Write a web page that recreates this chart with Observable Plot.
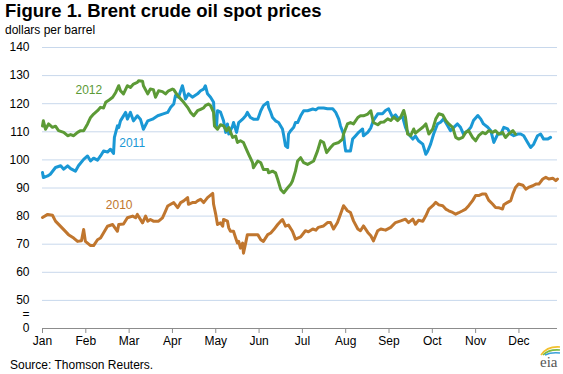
<!DOCTYPE html>
<html>
<head>
<meta charset="utf-8">
<script src="https://cdn.jsdelivr.net/npm/d3@7"></script>
<script src="https://cdn.jsdelivr.net/npm/@observablehq/plot@0.6"></script>
<style>
  html, body { margin: 0; padding: 0; background: #fff; }
  #wrap { position: relative; width: 563px; height: 374px; overflow: hidden; font-family: "Liberation Sans", Arial, sans-serif; color: #000; }
  #title { position: absolute; left: 5px; top: 0px; font-size: 18.5px; font-weight: bold; line-height: 22px; white-space: nowrap; }
  #subtitle { position: absolute; left: 5px; top: 23px; font-size: 12px; line-height: 14px; white-space: nowrap; }
  #chart { position: absolute; left: 0; top: 36px; }
  #source { position: absolute; left: 10px; top: 358px; font-size: 12px; line-height: 14px; white-space: nowrap; }
  #logo { position: absolute; left: 536px; top: 343px; }
</style>
</head>
<body>
<div id="wrap">
  <div id="title">Figure 1. Brent crude oil spot prices</div>
  <div id="subtitle">dollars per barrel</div>
  <div id="chart"></div>
  <div id="source">Source: Thomson Reuters.</div>
  <svg id="logo" width="27" height="27" viewBox="0 0 27 27">
    <path d="M5,12 Q11,3 24,4" fill="none" stroke="#f2c12e" stroke-width="1.6"/>
    <path d="M7,12 Q13,6 24,7" fill="none" stroke="#7dbb42" stroke-width="1.6"/>
    <path d="M9,12 Q15,9 24,10" fill="none" stroke="#3aa0d8" stroke-width="1.6"/>
    <text x="4" y="24" font-family="Liberation Serif, serif" font-size="15" fill="#555">eia</text>
  </svg>
</div>
<script>
// x values are months from Jan 1 (0 = Jan, 1 = Feb, ... fractional within month)
const monthLabels = ["Jan","Feb","Mar","Apr","May","Jun","Jul","Aug","Sep","Oct","Nov","Dec"];
const monthTicks = [0,1,2,3,4,5,6,7,8,9,10,11];
const yTicks = [40,45,50,60,70,80,90,100,110,120,130,140];   // 40 is shown as "0", 45 as the axis-break "="
const gridValues = [50,60,70,80,90,100,110,120,130,140];
const seriesNames = ["2010","2011","2012"];
const seriesColors = ["#c0762e","#1a98d5","#5c9a36"];

const brent2010 = [[0,79.5],[0.12,80.6],[0.23,80.3],[0.30,78.2],[0.49,75.2],[0.60,73.4],[0.72,72.2],[0.81,71],[0.90,71.2],[0.95,75.2],[0.99,71],[1.11,69.5],[1.18,69.5],[1.27,71.6],[1.34,72.2],[1.50,76.4],[1.62,77],[1.73,74.6],[1.76,77],[1.87,77.2],[1.96,79.4],[2.08,80],[2.15,79.4],[2.19,80.6],[2.31,77.6],[2.38,80],[2.43,78.2],[2.49,78.8],[2.56,78.2],[2.68,78.2],[2.77,79.4],[2.84,81.8],[2.89,83.6],[2.96,84.2],[3.03,84.8],[3.12,83],[3.19,84.8],[3.26,85.4],[3.35,86.6],[3.37,84.2],[3.46,84.8],[3.53,84.8],[3.58,85.4],[3.65,86],[3.72,84.8],[3.81,86.6],[3.93,88.1],[3.95,84.2],[4.00,80.6],[4.04,77],[4.11,77.6],[4.16,76.4],[4.18,78.8],[4.27,78.2],[4.30,75.8],[4.34,74.6],[4.41,74.6],[4.46,72.2],[4.50,70.4],[4.53,71],[4.57,68.6],[4.62,70.4],[4.64,66.8],[4.69,70.4],[4.73,73.4],[4.80,73.4],[4.97,73.4],[5.04,71.6],[5.10,71],[5.20,73.4],[5.27,74],[5.34,75.2],[5.43,77],[5.50,78.2],[5.54,78.8],[5.61,76.4],[5.68,76.8],[5.77,74.6],[5.84,71.8],[5.96,72.6],[6.07,74.8],[6.14,74.4],[6.24,75.4],[6.31,75],[6.37,76],[6.49,76.5],[6.58,77.7],[6.65,77.7],[6.72,75.4],[6.81,77.7],[6.88,80.7],[6.95,83.7],[7.04,81.9],[7.11,81.3],[7.18,78.3],[7.28,75.4],[7.34,74.8],[7.41,76.5],[7.51,74.2],[7.58,73],[7.64,71.2],[7.69,73],[7.74,74.8],[7.81,75.4],[7.92,75],[8.04,76],[8.15,77.7],[8.27,78.3],[8.38,78.9],[8.45,77.7],[8.55,78.9],[8.61,77.1],[8.68,78.5],[8.78,78.2],[8.85,80.1],[8.92,82.5],[9.01,83.7],[9.08,84.9],[9.15,84],[9.24,83.7],[9.31,82.5],[9.38,81.9],[9.47,81.3],[9.54,80.7],[9.61,81.2],[9.70,81.9],[9.77,82.5],[9.84,83.7],[9.93,85.5],[10.00,87.3],[10.07,87.3],[10.16,87.9],[10.23,87.9],[10.30,85.7],[10.39,84.3],[10.46,83.1],[10.53,83],[10.62,82.5],[10.65,84],[10.74,84.9],[10.81,85.5],[10.86,87.9],[10.92,90.2],[10.99,91.4],[11.09,91],[11.16,89.6],[11.22,90.2],[11.32,90.8],[11.39,91.4],[11.46,91.4],[11.55,93.2],[11.62,93.8],[11.69,93.2],[11.78,93.5],[11.85,92.6],[11.89,93.2]];

const brent2011 = [[0,95.5],[0.02,93.7],[0.12,94.3],[0.18,94.9],[0.30,97.3],[0.42,97.9],[0.49,96.7],[0.58,97.9],[0.65,96.9],[0.76,96],[0.83,97.9],[0.95,100.2],[1.04,101.4],[1.11,99.6],[1.18,100.6],[1.27,99.9],[1.34,101.4],[1.41,103.2],[1.50,102.8],[1.57,103.8],[1.64,102.3],[1.66,108],[1.73,112.1],[1.76,111.5],[1.80,113.9],[1.92,116.9],[1.96,114.5],[2.03,116.9],[2.10,113.9],[2.19,115.7],[2.26,114.5],[2.33,110.9],[2.43,113.9],[2.54,114.5],[2.66,115.7],[2.77,116.3],[2.89,116.9],[2.96,118.7],[3.03,119.9],[3.07,122.9],[3.14,122.3],[3.23,126.4],[3.26,124.6],[3.30,121.7],[3.37,123.5],[3.46,122.3],[3.58,123.5],[3.65,124.6],[3.72,125.2],[3.76,126.4],[3.81,123.5],[3.88,122.3],[3.95,120.5],[3.97,113.9],[4.02,112.1],[4.04,117.5],[4.11,117],[4.18,113.9],[4.23,109.8],[4.27,112.8],[4.30,109.2],[4.39,112.1],[4.41,113.3],[4.48,109.8],[4.53,113.3],[4.62,114.5],[4.69,115.7],[4.73,116.9],[4.80,115.1],[4.87,114.5],[4.97,114.5],[5.04,117.5],[5.10,119.3],[5.20,120.5],[5.22,118.7],[5.27,116.9],[5.31,115.1],[5.38,113.9],[5.45,113.3],[5.54,111],[5.57,108.6],[5.61,105],[5.66,104.4],[5.68,109.2],[5.73,110.4],[5.80,111.6],[5.84,113.3],[5.89,113.3],[5.96,115.7],[6.03,117.5],[6.12,117.5],[6.24,118.1],[6.31,117.8],[6.37,118.5],[6.49,118.5],[6.58,118.2],[6.70,118.2],[6.77,116.9],[6.84,114.5],[6.88,112.1],[6.95,109.2],[6.98,105],[7.00,103.2],[7.11,103.2],[7.16,107.4],[7.23,108.6],[7.30,109.8],[7.39,111],[7.41,108.6],[7.51,109.8],[7.58,111.4],[7.64,114],[7.74,116.4],[7.85,116.4],[7.92,117.6],[7.99,118.2],[8.08,115.2],[8.15,116],[8.22,114.6],[8.31,115.5],[8.38,111.6],[8.45,109.2],[8.55,107.4],[8.61,108.5],[8.68,106.8],[8.78,105.6],[8.85,102],[8.89,103],[8.96,105.6],[9.03,109.2],[9.12,112.8],[9.19,113.4],[9.26,114.6],[9.35,112.2],[9.42,110.4],[9.49,111.5],[9.58,112.8],[9.65,111.6],[9.72,109.2],[9.82,110.4],[9.89,111.6],[9.95,114],[10.05,115.8],[10.12,114.5],[10.18,112.8],[10.28,111.6],[10.35,110.4],[10.42,106.2],[10.51,109.2],[10.58,109.2],[10.65,111.6],[10.74,111],[10.81,109.2],[10.88,108.6],[10.97,109.2],[11.04,109.2],[11.11,108.6],[11.20,106.2],[11.27,104.4],[11.34,105.6],[11.43,108.6],[11.50,109.2],[11.57,107.4],[11.66,107.4],[11.73,108]];

const brent2012 = [[0,112.1],[0.02,113.9],[0.07,110.9],[0.14,112.8],[0.23,111.6],[0.30,112],[0.37,110.4],[0.49,109.8],[0.58,108.6],[0.65,109],[0.72,108.6],[0.81,109.8],[0.88,110.4],[0.95,110.4],[1.04,112.8],[1.11,115.1],[1.18,116.3],[1.27,117.5],[1.34,118.7],[1.41,118.5],[1.46,120.5],[1.52,121.1],[1.62,122.3],[1.69,124],[1.76,126.4],[1.80,124.6],[1.87,123.5],[1.96,126.4],[2.03,125.8],[2.10,127],[2.19,127.6],[2.22,128.2],[2.31,128],[2.33,126.4],[2.43,123.5],[2.49,125.2],[2.56,125],[2.61,122.3],[2.68,124.6],[2.77,124.3],[2.84,123.5],[2.91,124.6],[3.00,125.2],[3.03,125],[3.12,122.9],[3.19,121.7],[3.26,120.5],[3.35,118.7],[3.42,116.9],[3.49,115.7],[3.58,117.5],[3.65,118],[3.72,118.5],[3.76,119.3],[3.83,119.9],[3.88,119.3],[3.95,116.9],[3.97,112.1],[4.04,110.9],[4.11,112.5],[4.18,112.1],[4.25,110.4],[4.30,111.5],[4.39,108],[4.46,108.5],[4.50,106.2],[4.57,106.8],[4.64,106.2],[4.69,104.4],[4.76,102],[4.85,99],[4.87,97.2],[4.97,99.6],[5.04,99],[5.10,96.6],[5.20,96.6],[5.22,95.4],[5.31,96],[5.38,95.4],[5.43,93.1],[5.50,89.5],[5.57,88.3],[5.66,90.1],[5.73,91.3],[5.77,92.5],[5.84,96],[5.89,99.6],[5.96,100.8],[6.03,99],[6.12,98.4],[6.19,99],[6.26,99.6],[6.35,103.2],[6.42,106.8],[6.49,106.2],[6.56,102.6],[6.65,104.4],[6.72,105.6],[6.84,106.2],[6.93,107.4],[6.95,109.2],[7.04,112.8],[7.11,113.3],[7.18,112.8],[7.28,115.1],[7.34,115.7],[7.41,115.7],[7.51,116.3],[7.58,117.5],[7.64,113.3],[7.74,112.5],[7.81,113.4],[7.88,113.5],[7.97,114.6],[8.04,114],[8.11,115.2],[8.20,114],[8.27,115.2],[8.34,117.6],[8.38,115.2],[8.43,109.2],[8.50,108.6],[8.57,111],[8.61,109.5],[8.68,110.4],[8.78,111.6],[8.85,112.8],[8.92,109.2],[9.01,111],[9.08,114.6],[9.15,116.4],[9.24,116],[9.31,114],[9.38,112.8],[9.47,111.6],[9.54,108],[9.61,107.4],[9.70,108],[9.77,109.8],[9.84,110.4],[9.93,108],[10.00,106.8],[10.07,108.6],[10.16,109.8],[10.23,109.3],[10.30,110.4],[10.39,109.8],[10.46,110.4],[10.53,109.2],[10.62,109.8],[10.69,108],[10.76,109.2],[10.86,110.4],[10.92,109.2]];

// series label anchors (month, value)
const labelMonth = [1.77, 2.07, 1.07];
const labelValue = [84.0, 105.8, 124.7];

const series = [brent2010, brent2011, brent2012];
const lineMarks = series.map((s, i) =>
  Plot.line(s, {x: d => d[0], y: d => d[1], stroke: seriesColors[i], strokeWidth: 3, strokeLinejoin: "round", strokeLinecap: "round"})
);
const labels = seriesNames.map((name, i) => ({name, m: labelMonth[i], v: labelValue[i], c: seriesColors[i]}));

const chart = Plot.plot({
  width: 563,
  height: 319,
  marginTop: 11,
  marginBottom: 27,
  marginLeft: 42,
  marginRight: 6,
  style: {fontFamily: '"Liberation Sans", Arial, sans-serif', fontSize: "12px", background: "transparent", color: "#000", overflow: "visible"},
  x: {domain: [0, 11.89], axis: null},
  y: {domain: [40, 140], axis: null},
  marks: [
    Plot.ruleY(gridValues, {stroke: "#c8d8ec", strokeWidth: 1}),
    Plot.ruleY([40], {stroke: "#8c8c8c", strokeWidth: 1}),
    Plot.axisX(monthTicks, {label: null, tickSize: 5, tickPadding: 3, stroke: "#8c8c8c", fill: "#000", tickFormat: i => monthLabels[i], fontSize: 12}),
    Plot.axisY(yTicks, {label: null, tickSize: 0, tickPadding: 13, fill: "#000", fontSize: 12, tickFormat: d => d === 40 ? "0" : d === 45 ? "=" : String(d)}),
    ...lineMarks,
    Plot.text(labels, {x: "m", y: "v", text: "name", fill: "c", fontSize: 12})
  ]
});
document.getElementById("chart").appendChild(chart);
</script>
</body>
</html>
